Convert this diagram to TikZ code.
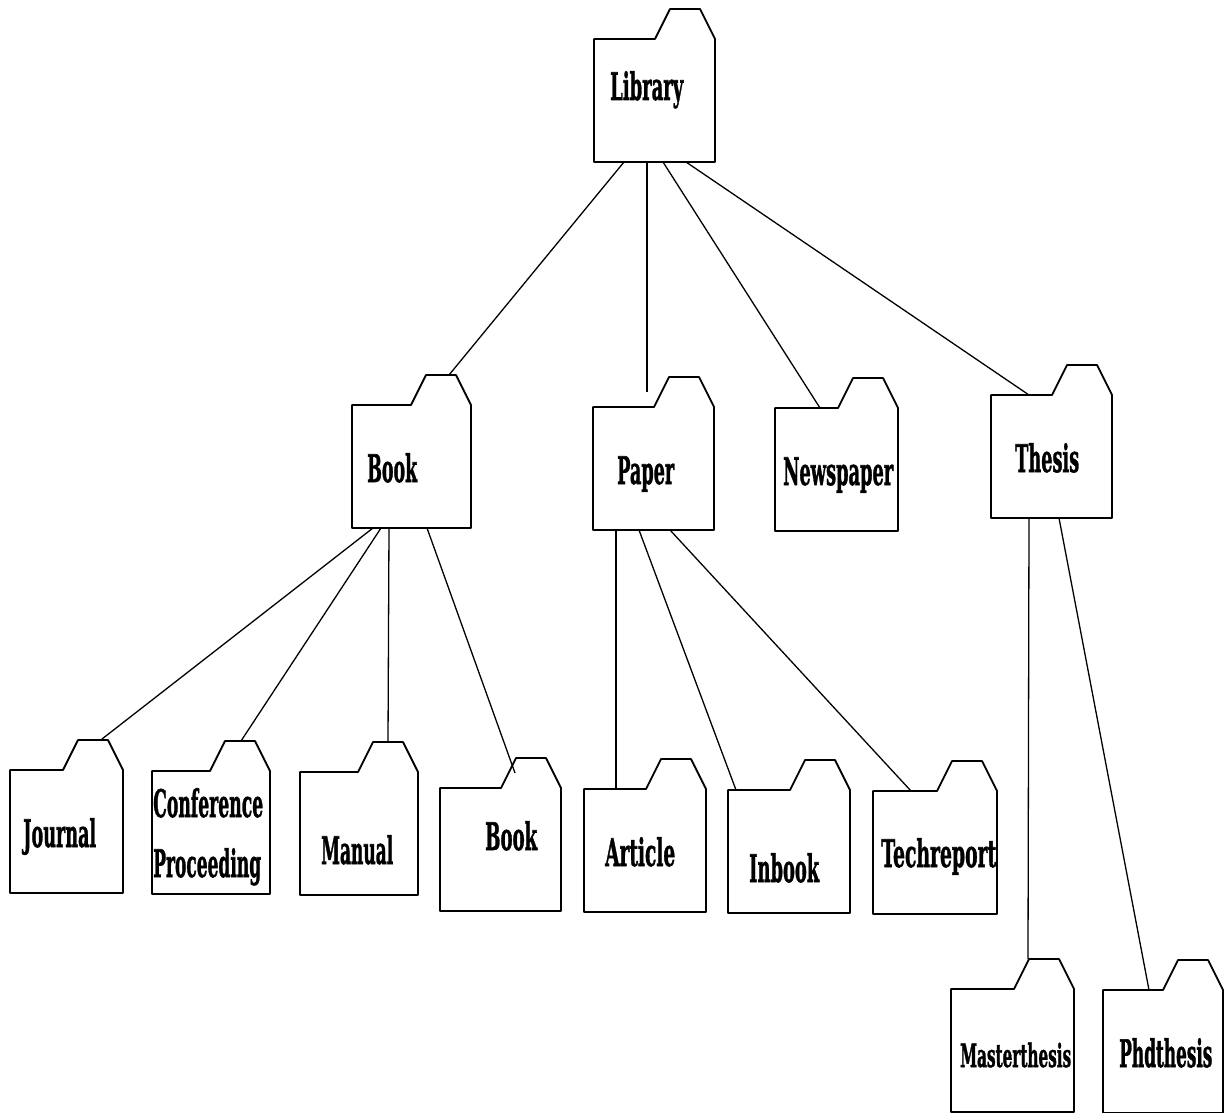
\documentclass[tikz,border=0pt]{standalone}
\usepackage{fontspec}
\setmainfont[BoldFeatures={FakeBold=1.6}]{DejaVu Serif}
\usepackage{graphicx}
\usetikzlibrary{positioning}

\tikzset{
    foldbox/.style={minimum height=123pt, inner sep=0pt, outer sep=0pt, anchor=north west},
    foldline/.style={line width=1.8pt, line join=round},
    foldtext/.style={inner sep=0pt, anchor=base west, font=\bfseries},
    linkline/.style={line width=1.3pt}
}

\begin{document}
\begin{tikzpicture}[x=1pt, y=-1pt]
\useasboundingbox (0,0) rectangle (1224,1113);

% Folders
\foreach \name/\x/\y/\w in {
    Library/594/39/121,
    Book/352/405/119,
    Paper/593/407/121,
    Newspaper/775/408/123,
    Thesis/991/395/121,
    Journal/10/770/113,
    Conference/152/771/118,
    Manual/300/772/118,
    Bookb/440/788/121,
    Article/584/789/122,
    Inbook/728/790/122,
    Techreport/873/791/124,
    Masterthesis/951/989/123,
    Phdthesis/1103/990/120
} {
    \node[foldbox, minimum width=\w pt] (\name) at (\x,\y) {};
    \draw[foldline] (\name.north east) -- ++(-15,-30) -- ++(-30,0) -- ++(-15,30)
        -- (\name.north west) -- (\name.south west) -- (\name.south east) -- cycle;
}

% Labels
\foreach \name/\x/\y/\w/\fs/\txt in {
    Librarytext/610/100/73/38/Library,
    Booktext/367/482/50/38/Book,
    Papertext/617/484/57/38/Paper,
    Newspapertext/783/485/110/38/Newspaper,
    Thesistext/1015/472/64/38/Thesis,
    Journaltext/23/847/73/38/Journal,
    Conferencetext/153/817/110/38/Conference,
    Proceedingtext/153/877/108/38/Proceeding,
    Manualtext/321/864/72/38/Manual,
    Bookbtext/485/850/52/38/Book,
    Articletext/605/866/70/38/Article,
    Inbooktext/749/882/70/38/Inbook,
    Techreporttext/881/867/115/38/Techreport,
    Masterthesistext/960/1067/111/32/Masterthesis,
    Phdthesistext/1119/1067/99/38/Phdthesis
} {
    \node[foldtext] (\name) at (\x,\y) {\fontsize{\fs}{\fs}\selectfont\resizebox{\w pt}{\height}{\txt}};
}

% Links between folders
\foreach \from/\sx/\to/\tx/\ty in {
    Library/30/Book/97/30,
    Library/53/Paper/54/15,
    Library/69/Newspaper/45/0,
    Library/92/Thesis/38/0,
    Book/21/Journal/92/31,
    Book/29/Conference/89/30,
    Book/37/Manual/88/30,
    Book/75/Bookb/75/15,
    Paper/23/Article/32/0,
    Paper/46/Inbook/8/0,
    Paper/77/Techreport/38/0,
    Thesis/38/Masterthesis/77/30,
    Thesis/68/Phdthesis/46/0
} {
    \draw[linkline] ([xshift=\sx pt]\from.south west) -- ([xshift=\tx pt, yshift=\ty pt]\to.north west);
}

\end{tikzpicture}
\end{document}
